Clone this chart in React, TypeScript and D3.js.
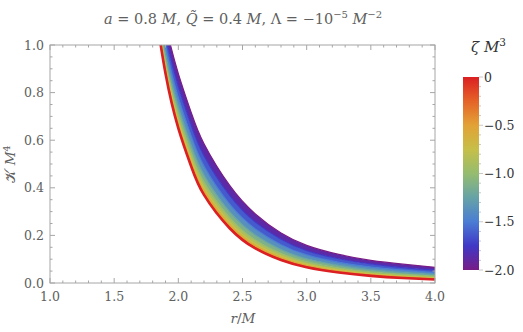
import * as d3 from 'd3'

// radial grid (r/M) the curves were read at
const rValues = [1.8, 1.9, 2.0, 2.1, 2.2, 2.4, 2.6, 2.8, 3.0, 3.25, 3.5, 3.75, 4.0]

// zeta M^3 of each curve, and K M^4 (estimated)
const zetaValues = [0, -0.25, -0.5, -0.75, -1.0, -1.25, -1.5, -1.75, -2.0]
const kZeta000 = [1.22, 0.88, 0.65, 0.49, 0.37, 0.23, 0.145, 0.097, 0.066, 0.044, 0.03, 0.021, 0.015]
const kZeta025 = [1.222, 0.883, 0.654, 0.494, 0.373, 0.233, 0.147, 0.099, 0.067, 0.045, 0.031, 0.022, 0.016]
const kZeta050 = [1.229, 0.893, 0.664, 0.504, 0.383, 0.241, 0.154, 0.104, 0.072, 0.049, 0.034, 0.025, 0.018]
const kZeta075 = [1.241, 0.91, 0.682, 0.522, 0.4, 0.255, 0.165, 0.113, 0.079, 0.055, 0.039, 0.029, 0.022]
const kZeta100 = [1.258, 0.933, 0.708, 0.547, 0.424, 0.275, 0.181, 0.125, 0.089, 0.063, 0.046, 0.036, 0.028]
const kZeta125 = [1.279, 0.962, 0.74, 0.579, 0.454, 0.3, 0.202, 0.141, 0.102, 0.074, 0.055, 0.044, 0.035]
const kZeta150 = [1.304, 0.998, 0.779, 0.618, 0.491, 0.331, 0.227, 0.161, 0.118, 0.087, 0.067, 0.054, 0.044]
const kZeta175 = [1.335, 1.041, 0.826, 0.664, 0.535, 0.368, 0.256, 0.184, 0.136, 0.102, 0.08, 0.065, 0.054]
const kZeta200 = [1.37, 1.09, 0.88, 0.717, 0.585, 0.41, 0.29, 0.21, 0.158, 0.12, 0.095, 0.079, 0.066]

const curves = [kZeta000, kZeta025, kZeta050, kZeta075, kZeta100, kZeta125, kZeta150, kZeta175, kZeta200]

const colorbarTicks = [0, -0.5, -1.0, -1.5, -2.0]

// Mathematica-like "Rainbow" scheme, from zeta = -2 up to 0
const rainbow = ['#781c86', '#4038c6', '#4a7dd4', '#66a3a6', '#95bc6f', '#c6bf48', '#e2a235', '#e56327', '#db1f22']

const W = 523
const H = 332
const plot = { left: 50, right: 435, top: 45, bottom: 283 }
const bar = { left: 463, width: 16, top: 77, bottom: 270 }
const axisColor = '#a6a6a6'
const textColor = '#606060'
const serif = 'DejaVu Serif'

const fmtBar = (v: number) => (v === 0 ? '0' : '\u2212' + Math.abs(v).toFixed(1))

export default function App() {
  const x = d3.scaleLinear().domain([1, 4]).range([plot.left, plot.right])
  const y = d3.scaleLinear().domain([0, 1]).range([plot.bottom, plot.top])

  const color = d3.scaleLinear<string>()
    .domain(d3.range(rainbow.length).map(i => -2 + (2 * i) / (rainbow.length - 1)))
    .range(rainbow)
    .interpolate(d3.interpolateRgb)

  const line = d3.line<number>()
    .x((_, i) => x(rValues[i]))
    .y(d => y(d))
    .curve(d3.curveNatural)

  // area between two neighbouring curves, same spline as the lines
  const areaPath = (lower: number[], upper: number[]) => {
    const a = d3.area<number>()
      .x((_, j) => x(rValues[j]))
      .y0((_, j) => y(lower[j]))
      .y1((_, j) => y(upper[j]))
      .curve(d3.curveNatural)
    return a(lower) || ''
  }

  const bands = curves.slice(0, -1).map((lower, i) => ({
    d: areaPath(lower, curves[i + 1]),
    fill: color((zetaValues[i] + zetaValues[i + 1]) / 2)
  }))

  const xMajor = x.ticks(6)
  const xMinor = x.ticks(30)
  const yMajor = y.ticks(5)
  const yMinor = y.ticks(20)

  const barScale = d3.scaleLinear().domain([-2, 0]).range([bar.bottom, bar.top])
  const barMinor = barScale.ticks(20)

  const order = d3.range(curves.length).reverse()

  return (
    <svg width={W} height={H} style={{ position: 'fixed', left: 0, top: 0, background: '#fff' }}>
      <defs>
        <clipPath id="plotClip">
          <rect x={plot.left} y={plot.top} width={plot.right - plot.left} height={plot.bottom - plot.top} />
        </clipPath>
        <linearGradient id="barGrad" x1="0" y1="1" x2="0" y2="0">
          {rainbow.map((c, i) => (
            <stop key={i} offset={i / (rainbow.length - 1)} stopColor={c} />
          ))}
        </linearGradient>
      </defs>

      {/* title */}
      <text x={243} y={24} textAnchor="middle" fontSize={14.5} fill={textColor} fontFamily={serif}>
        <tspan fontStyle="italic">a</tspan>
        <tspan>{' = 0.8 '}</tspan>
        <tspan fontStyle="italic">M</tspan>
        <tspan>{', '}</tspan>
        <tspan fontStyle="italic">{'Q\u0303'}</tspan>
        <tspan>{' = 0.4 '}</tspan>
        <tspan fontStyle="italic">M</tspan>
        <tspan>{', \u039B = \u221210'}</tspan>
        <tspan dy={-6} fontSize={10}>{'\u22125'}</tspan>
        <tspan dy={6}>{' '}</tspan>
        <tspan fontStyle="italic">M</tspan>
        <tspan dy={-6} fontSize={10}>{'\u22122'}</tspan>
      </text>

      {/* curves */}
      <g clipPath="url(#plotClip)">
        {bands.map((b, i) => (
          <path key={'b' + i} d={b.d} fill={b.fill} stroke="none" />
        ))}
        {order.map(i => (
          <path
            key={'c' + i}
            d={line(curves[i]) || ''}
            fill="none"
            stroke={color(zetaValues[i])}
            strokeWidth={i === 0 ? 2.6 : 1.2}
          />
        ))}
      </g>

      {/* frame and ticks */}
      <rect
        x={plot.left}
        y={plot.top}
        width={plot.right - plot.left}
        height={plot.bottom - plot.top}
        fill="none"
        stroke={axisColor}
        strokeWidth={1}
      />
      {xMinor.map((t, i) => {
        const len = xMajor.some(m => Math.abs(m - t) < 1e-9) ? 5 : 2.5
        return (
          <g key={'xt' + i} stroke={axisColor}>
            <line x1={x(t)} x2={x(t)} y1={plot.bottom} y2={plot.bottom - len} />
            <line x1={x(t)} x2={x(t)} y1={plot.top} y2={plot.top + len} />
          </g>
        )
      })}
      {yMinor.map((t, i) => {
        const len = yMajor.some(m => Math.abs(m - t) < 1e-9) ? 5 : 2.5
        return (
          <g key={'yt' + i} stroke={axisColor}>
            <line x1={plot.left} x2={plot.left + len} y1={y(t)} y2={y(t)} />
            <line x1={plot.right} x2={plot.right - len} y1={y(t)} y2={y(t)} />
          </g>
        )
      })}
      {xMajor.map((t, i) => (
        <text key={'xl' + i} x={x(t)} y={301} textAnchor="middle" fontSize={12.5} fill={textColor} fontFamily={serif}>
          {t.toFixed(1)}
        </text>
      ))}
      {yMajor.map((t, i) => (
        <text key={'yl' + i} x={44} y={y(t) + 4.5} textAnchor="end" fontSize={12.5} fill={textColor} fontFamily={serif}>
          {t.toFixed(1)}
        </text>
      ))}

      {/* axis labels */}
      <text x={243} y={323} textAnchor="middle" fontSize={13.5} fill={textColor} fontFamily={serif}>
        <tspan fontStyle="italic">r</tspan>
        <tspan>/</tspan>
        <tspan fontStyle="italic">M</tspan>
      </text>
      <text
        transform={`translate(15, ${(plot.top + plot.bottom) / 2}) rotate(-90)`}
        textAnchor="middle"
        fontSize={13.5}
        fill={textColor}
        fontFamily={serif}
      >
        <tspan>{'\uD835\uDCA6 '}</tspan>
        <tspan fontStyle="italic">M</tspan>
        <tspan dy={-5} fontSize={9.5}>4</tspan>
      </text>

      {/* colour bar */}
      <rect x={bar.left} y={bar.top} width={bar.width} height={bar.bottom - bar.top} fill="url(#barGrad)" />
      {barMinor.map((t, i) => {
        const major = colorbarTicks.some(m => Math.abs(m - t) < 1e-9)
        return (
          <line
            key={'bt' + i}
            x1={bar.left + bar.width}
            x2={bar.left + bar.width + (major ? 4 : 2)}
            y1={barScale(t)}
            y2={barScale(t)}
            stroke="#c8c8c8"
          />
        )
      })}
      {colorbarTicks.map((t, i) => (
        <text key={'bl' + i} x={bar.left + bar.width + 5} y={barScale(t) + 4.5} fontSize={12.5} fill="#333" fontFamily={serif}>
          {fmtBar(t)}
        </text>
      ))}
      <text x={471} y={52} fontSize={15} fill="#333" fontFamily={serif}>
        <tspan fontStyle="italic">{'\u03B6'}</tspan>
        <tspan fontStyle="italic">{' M'}</tspan>
        <tspan dy={-6} fontSize={10.5}>3</tspan>
      </text>
    </svg>
  )
}
